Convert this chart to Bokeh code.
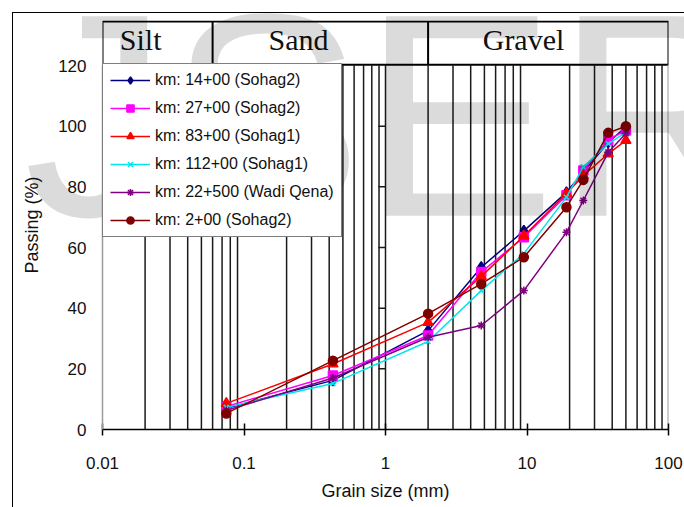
from bokeh.plotting import figure
from bokeh.models import Range1d, FixedTicker, Legend, LegendItem
from bokeh.embed import file_html
from bokeh.resources import INLINE
from bokeh.core.properties import value

# ---------------- data ----------------
sieve_mm = [0.075, 0.425, 2.0, 4.75, 9.5, 19.0, 25.0, 37.5, 50.0]

km14_sohag2 = [7.0, 16.2, 32.6, 53.5, 65.5, 78.2, 84.8, 94.7, 99.7]
km27_sohag2 = [7.6, 17.8, 31.0, 51.9, 63.4, 77.2, 85.4, 95.5, 98.6]
km83_sohag1 = [8.6, 21.6, 35.3, 50.5, 63.8, 77.8, 83.7, 90.9, 95.3]
km112_sohag1 = [7.3, 15.2, 29.0, 45.8, 58.0, 76.6, 86.6, 94.2, 98.0]
km22_wadi_qena = [6.3, 17.0, 30.4, 34.3, 45.8, 65.0, 75.5, 91.4, 97.6]
km2_sohag2 = [5.3, 22.7, 38.2, 48.0, 56.8, 73.3, 82.3, 97.8, 100.0]

series_labels = ["km: 14+00 (Sohag2)", "km: 27+00 (Sohag2)", "km: 83+00 (Sohag1)",
                 "km: 112+00 (Sohag1)", "km: 22+500 (Wadi Qena)", "km: 2+00 (Sohag2)"]
series_values = [km14_sohag2, km27_sohag2, km83_sohag1, km112_sohag1, km22_wadi_qena, km2_sohag2]
series_colors = ["#000080", "#FF00FF", "#FF0000", "#00E5EE", "#800080", "#800000"]
series_markers = ["diamond", "square", "triangle", "x", "asterisk", "circle"]
series_sizes = [11, 9, 10, 7, 8, 9]

x_ticks = [0.01, 0.1, 1, 10, 100]
x_tick_labels = ["0.01", "0.1", "1", "10", "100"]
y_ticks = [0, 20, 40, 60, 80, 100, 120]

zones = ["Silt", "Sand", "Gravel"]
zone_bounds = [0.01, 0.06, 2.0, 100]
zone_label_x = [0.0186, 0.243, 9.45]
header_bottom = 120.3
header_top = 134.5
header_text_y = 128.6

grid_x = [m * 10.0 ** k for k in range(-2, 2) for m in range(2, 10)]
inner_ticks_y = [20, 40, 60, 80, 100]

watermark = ["IJSER"]
watermark_x = [0.60]
watermark_y = [103.8]

FONT = "Liberation Sans"

# ---------------- figure ----------------
frame_css = ("linear-gradient(#000,#000) 12px 12px / 1px 100% no-repeat, "
             "linear-gradient(#000,#000) 12px 12px / 100% 1px no-repeat, #ffffff")
p = figure(width=684, height=507, x_axis_type="log",
           x_range=Range1d(0.01, 100), y_range=Range1d(0, 134.85),
           output_backend="svg", toolbar_location=None,
           min_border_left=102, min_border_right=16, min_border_top=20, min_border_bottom=78,
           styles={"background": frame_css})
p.xgrid.visible = False
p.ygrid.visible = False
p.outline_line_color = None
p.background_fill_color = "white"
p.border_fill_alpha = 0.0

# x axis
p.xaxis.ticker = FixedTicker(ticks=x_ticks, minor_ticks=[])
p.xaxis.major_label_overrides = dict(zip(x_ticks, x_tick_labels))
p.xaxis.axis_line_color = "black"
p.xaxis.axis_line_width = 1.5
p.xaxis.major_tick_line_color = "black"
p.xaxis.major_tick_line_width = 1.5
p.xaxis.major_tick_in = 6
p.xaxis.major_tick_out = 6
p.xaxis.minor_tick_line_color = None
p.xaxis.major_label_standoff = 21
p.xaxis.major_label_text_font = FONT
p.xaxis.major_label_text_font_size = "17px"
p.xaxis.major_label_text_color = "#111111"
p.xaxis.axis_label = "Grain size (mm)"
p.xaxis.axis_label_text_font = FONT
p.xaxis.axis_label_text_font_size = "18px"
p.xaxis.axis_label_text_font_style = "normal"
p.xaxis.axis_label_text_color = "#111111"
p.xaxis.axis_label_standoff = 9

# y axis
p.yaxis.ticker = FixedTicker(ticks=y_ticks, minor_ticks=[])
p.yaxis.bounds = (0, 120)
p.yaxis.axis_line_color = "#9a9a9a"
p.yaxis.axis_line_width = 1.5
p.yaxis.major_tick_in = 0
p.yaxis.major_tick_out = 0
p.yaxis.major_tick_line_color = None
p.yaxis.minor_tick_line_color = None
p.yaxis.major_label_standoff = 16
p.yaxis.major_label_text_font = FONT
p.yaxis.major_label_text_font_size = "17px"
p.yaxis.major_label_text_color = "#111111"
p.yaxis.axis_label = "Passing (%)"
p.yaxis.axis_label_text_font = FONT
p.yaxis.axis_label_text_font_size = "18px"
p.yaxis.axis_label_text_font_style = "normal"
p.yaxis.axis_label_text_color = "#111111"
p.yaxis.axis_label_standoff = 13

# header box with soil zones
p.quad(left=[zone_bounds[0]], right=[zone_bounds[-1]], bottom=[header_bottom], top=[header_top],
       fill_color="white", line_color="black", line_width=2)
p.segment(x0=zone_bounds[1:-1], y0=[header_bottom] * 2, x1=zone_bounds[1:-1], y1=[header_top] * 2,
          line_color="black", line_width=2)
p.text(x=zone_label_x, y=[header_text_y] * 3, text=zones,
       text_font=value("Liberation Serif"), text_font_size="30px",
       text_align="center", text_baseline="middle", text_color="#111111")

# vertical grid lines at minor positions
p.segment(x0=grid_x, y0=[0] * len(grid_x), x1=grid_x, y1=[header_bottom] * len(grid_x),
          line_color="#1a1a1a", line_width=1.5)

# line at 1 mm with small ticks
p.segment(x0=[1], y0=[0], x1=[1], y1=[header_bottom], line_color="#1a1a1a", line_width=1.5)
p.segment(x0=[0.89] * len(inner_ticks_y), y0=inner_ticks_y, x1=[1] * len(inner_ticks_y), y1=inner_ticks_y,
          line_color="#1a1a1a", line_width=1.5)

# right border of plot area
p.segment(x0=[100], y0=[0], x1=[100], y1=[header_bottom], line_color="#9a9a9a", line_width=2)

# series
items = []
for lab, vals, col, mk, sz in zip(series_labels, series_values, series_colors, series_markers, series_sizes):
    rl = p.line(sieve_mm, vals, line_color=col, line_width=1.5)
    rm = p.scatter(sieve_mm, vals, marker=mk, size=sz, fill_color=col, line_color=col, line_width=1.5)
    items.append(LegendItem(label=lab, renderers=[rl, rm]))

legend = Legend(items=items, location=(0, 192), margin=0,
                border_line_color="black", border_line_width=1.5,
                background_fill_color="white", background_fill_alpha=1.0,
                label_text_font=FONT, label_text_font_size="16px", label_text_color="#111111",
                glyph_width=40, glyph_height=18, label_height=18,
                spacing=10, padding=7, label_standoff=5)
p.add_layout(legend)

# watermark (drawn on top, translucent)
p.text(x=watermark_x, y=watermark_y, text=watermark,
       text_font=value(FONT), text_font_size="290px", text_color="black", text_alpha=0.14,
       text_align="center", text_baseline="alphabetic", level="overlay")

open("out.html", "w").write(file_html(p, INLINE))
